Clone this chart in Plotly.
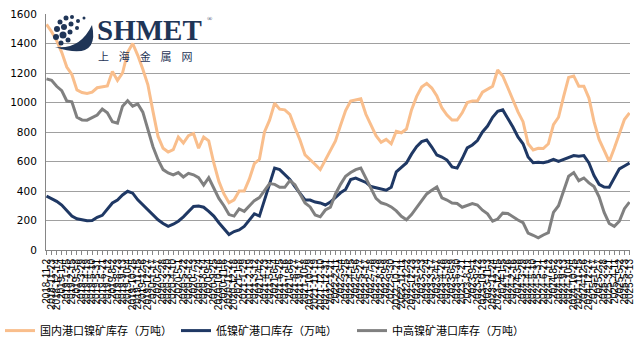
import pandas as pd
import plotly.graph_objects as go

# ---- data (3-week sampling) ----
dates = pd.date_range("2018-11-02", periods=116, freq="21D")
categories = [f"{d.year}-{d.month}-{d.day}" for d in dates]

domestic_total = [
    1530, 1480, 1420, 1340, 1240, 1190, 1085, 1068, 1062, 1070,
    1100, 1105, 1112, 1210, 1150, 1200, 1340, 1400, 1320, 1225,
    1120, 940, 770, 690, 664, 680, 766, 725, 775, 790,
    690, 766, 740, 590, 465, 380, 320, 340, 400, 400,
    480, 585, 615, 800, 880, 995, 955, 950, 920, 830,
    746, 645, 615, 580, 545, 610, 665, 740, 845, 945,
    1010, 1017, 1025, 920, 845, 775, 730, 750, 720, 805,
    795, 820, 950, 1040, 1105, 1130, 1098, 1045, 963, 915,
    881, 881, 930, 1000, 1010, 1010, 1070, 1088, 1110, 1220,
    1180, 1100, 1017, 936, 870, 720, 678, 690, 688, 720,
    850, 900, 1040, 1170, 1180, 1110, 1110, 1030, 870, 750,
    675, 600, 690, 793, 885, 929,
]
low_nickel = [
    366, 350, 330, 305, 265, 230, 212, 205, 198, 200,
    222, 235, 280, 319, 339, 373, 398, 385, 340, 305,
    275, 238, 205, 180, 160, 175, 195, 225, 260, 295,
    298, 290, 262, 230, 185, 145, 105, 125, 136, 160,
    200, 245, 230, 340, 450, 555, 545, 510, 478, 430,
    386, 339, 339, 325, 319, 305, 325, 355, 388, 410,
    478, 488, 473, 458, 430, 420, 410, 405, 425, 530,
    560, 590, 650, 700, 735, 746, 698, 644, 630, 610,
    563, 555, 620, 692, 712, 742, 800, 840, 900, 940,
    950, 895, 834, 766, 720, 630, 592, 595, 592, 600,
    615, 600, 615, 630, 640, 635, 640, 590, 505, 445,
    427, 425, 490, 550, 570, 590,
]
mid_high_nickel = [
    1160, 1150, 1110, 1080, 1010, 1005, 900, 882, 880, 900,
    915, 955, 930, 870, 860, 975, 1012, 975, 990, 935,
    820, 700, 612, 545, 522, 509, 525, 495, 520, 510,
    490, 440, 490, 420, 350, 300, 240, 230, 278, 262,
    300, 335, 355, 400, 450, 445, 425, 425, 470, 442,
    375, 319, 292, 237, 225, 271, 290, 380, 445, 500,
    525, 545, 556, 485, 420, 350, 320, 310, 292, 265,
    228, 205, 240, 285, 330, 380, 405, 427, 353, 339,
    319, 315, 290, 305, 315, 305, 270, 245, 195, 210,
    250, 248, 224, 203, 185, 115, 100, 82, 102, 118,
    255, 300, 400, 500, 525, 470, 488, 455, 430, 360,
    255, 180, 160, 195, 280, 325,
]
series_names = ["国内港口镍矿库存（万吨）", "低镍矿港口库存（万吨）", "中高镍矿港口库存（万吨）"]
y_ticks = [0, 200, 400, 600, 800, 1000, 1200, 1400, 1600]

colors = ["#F9BE8C", "#1F3864", "#808080"]
W, H = 640, 348
L, R, T, B = 46, 10, 14, 98

fig = go.Figure()
for name, vals, c in zip(series_names, [domestic_total, low_nickel, mid_high_nickel], colors):
    fig.add_trace(go.Scatter(x=categories, y=vals, mode="lines", name=name,
                             line=dict(color=c, width=3)))

fig.update_layout(
    width=W, height=H,
    margin=dict(l=L, r=R, t=T, b=B),
    paper_bgcolor="white", plot_bgcolor="white",
    showlegend=True,
    legend=dict(orientation="h", xref="container", yref="container",
                x=0.0, y=0.05, xanchor="left", yanchor="middle",
                font=dict(family="Noto Sans CJK SC", size=11, color="#000"),
                entrywidth=131, entrywidthmode="pixels"),
    font=dict(family="DejaVu Sans", color="#000"),
)
fig.update_xaxes(type="category", tickmode="array", tickvals=categories, ticktext=categories,
                 tickangle=-90, tickfont=dict(family="Liberation Sans", size=10, color="#000"),
                 showline=True, linecolor="#868686", linewidth=1,
                 ticks="outside", ticklen=4, tickcolor="#868686", automargin=False,
                 showgrid=False, range=[-0.1, len(categories) - 0.9])
fig.update_yaxes(range=[0, 1600], tickvals=y_ticks, showgrid=True, gridcolor="#A0A0A0",
                 gridwidth=1, showline=True, linecolor="#868686", zeroline=False,
                 tickfont=dict(family="DejaVu Sans", size=10.5, color="#000"),
                 ticklabelstandoff=6, automargin=False)

# ---- logo watermark (decoration) ----
def px(xp):
    return (xp - L) / (W - L - R)

def py(yp):
    return (H - B - yp) / (H - T - B)

fig.add_annotation(xref="paper", yref="paper", x=px(96), y=py(47), xanchor="left", yanchor="bottom",
                   text="<b>SHMET</b>", showarrow=False, borderpad=0,
                   font=dict(family="Liberation Serif", size=29, color="#1F3557"))
fig.add_annotation(xref="paper", yref="paper", x=px(206), y=py(19), xanchor="left", yanchor="middle",
                   text="®", showarrow=False, borderpad=0,
                   font=dict(family="Liberation Serif", size=7, color="#1F3557"))
fig.add_annotation(xref="paper", yref="paper", x=px(97), y=py(47.5), xanchor="left", yanchor="top",
                   text="上\u00a0\u00a0\u00a0\u00a0海\u00a0\u00a0\u00a0\u00a0金\u00a0\u00a0\u00a0\u00a0属\u00a0\u00a0\u00a0\u00a0网",
                   showarrow=False, borderpad=0,
                   font=dict(family="Noto Sans CJK SC", size=11, color="#1F3557"))

def pt(x, y):
    return f"{px(x):.4f},{py(y):.4f}"

crescent = (f"M{pt(92,25)} Q{pt(100,62)} {pt(55,47)} Q{pt(80,50)} {pt(92,25)} Z")
fig.add_shape(type="path", xref="paper", yref="paper", path=crescent,
              fillcolor="#1F3557", line=dict(width=0))
dots = [(60, 22, 2.5), (66, 18, 2.5), (72, 17, 2), (57, 29, 3), (64, 27, 3),
        (71, 24, 2.5), (78, 21, 2), (56, 37, 3), (63, 35, 3.5), (70, 32, 2.5),
        (77, 28, 2), (61, 43, 2.5), (68, 40, 2.5), (84, 18, 1.5)]
for (cx, cy, r) in dots:
    fig.add_shape(type="circle", xref="paper", yref="paper",
                  x0=px(cx - r), x1=px(cx + r), y0=py(cy + r), y1=py(cy - r),
                  fillcolor="#1F3557", line=dict(width=0))

fig.write_html("out.html")
